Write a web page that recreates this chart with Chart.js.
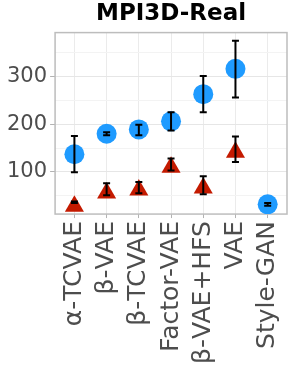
<!DOCTYPE html>
<html>
<head>
<meta charset="utf-8">
<script src="https://cdn.jsdelivr.net/npm/chart.js@4.4.1/dist/chart.umd.min.js"></script>
<style>
  html, body { margin: 0; padding: 0; background: #fff; }
  #wrap { width: 291px; height: 376px; }
</style>
</head>
<body>
<div id="wrap"><canvas id="myChart" width="291" height="376"></canvas></div>
<script>
// categories along x
var models = ['α-TCVAE', 'β-VAE', 'β-TCVAE', 'Factor-VAE', 'β-VAE+HFS', 'VAE', 'Style-GAN'];

// blue circles
var blueVal = [137, 180, 189, 206, 263, 316, 32];
var blueLow = [99, 177, 177, 187, 225, 256, 29];
var blueHigh = [175, 183, 199, 225, 301, 375, 35];

// red triangles (no value for Style-GAN)
var redVal = [28, 56, 62, 110, 66, 141, null];
var redLow = [35, 51, 55, 103, 53, 121, null];
var redHigh = [38, 76, 79, 128, 91, 174, null];

var yTicks = [50, 100, 150, 200, 250, 300, 350];

var blueColour = '#1f9bff';
var redColour = '#c41a00';
var textColour = '#4d4d4d';

function toPoints(vals){
    var out = [];
    for (var i = 0; i < vals.length; i++){
        if (vals[i] !== null) out.push({x: i, y: vals[i]});
    }
    return out;
}

// error bars drawn over the markers
var errorBars = {
    id: 'errorBars',
    afterDatasetsDraw: function(chart){
        var ctx = chart.ctx;
        var xs = chart.scales.x, ys = chart.scales.y;
        var a = chart.chartArea;
        var sets = [[redLow, redHigh], [blueLow, blueHigh]];
        ctx.save();
        ctx.beginPath();
        ctx.rect(a.left, a.top, a.right - a.left, a.bottom - a.top);
        ctx.clip();
        ctx.strokeStyle = '#000';
        ctx.lineWidth = 2;
        for (var s = 0; s < sets.length; s++){
            var lo = sets[s][0], hi = sets[s][1];
            for (var i = 0; i < lo.length; i++){
                if (lo[i] === null) continue;
                var px = xs.getPixelForValue(i);
                var p1 = ys.getPixelForValue(lo[i]);
                var p2 = ys.getPixelForValue(hi[i]);
                ctx.beginPath();
                ctx.moveTo(px, p1); ctx.lineTo(px, p2);
                ctx.moveTo(px - 3.5, p1); ctx.lineTo(px + 3.5, p1);
                ctx.moveTo(px - 3.5, p2); ctx.lineTo(px + 3.5, p2);
                ctx.stroke();
            }
        }
        ctx.restore();
    }
};

// grey panel border
var panelBorder = {
    id: 'panelBorder',
    beforeDatasetsDraw: function(chart){
        var a = chart.chartArea;
        var ctx = chart.ctx;
        ctx.save();
        ctx.strokeStyle = '#bdbdbd';
        ctx.lineWidth = 1.5;
        ctx.strokeRect(a.left, a.top, a.right - a.left, a.bottom - a.top);
        ctx.restore();
    }
};

var ctx = document.getElementById('myChart').getContext('2d');
var myChart = new Chart(ctx, {
    type: 'scatter',
    data: {
        datasets: [
            {
                label: 'blue',
                data: toPoints(blueVal),
                pointStyle: 'circle',
                pointRadius: 10,
                pointHoverRadius: 10,
                backgroundColor: blueColour,
                borderColor: blueColour,
                borderWidth: 0
            },
            {
                label: 'red',
                data: toPoints(redVal),
                pointStyle: 'triangle',
                pointRadius: 11,
                pointHoverRadius: 11,
                backgroundColor: redColour,
                borderColor: redColour,
                borderWidth: 0
            }
        ]
    },
    plugins: [panelBorder, errorBars],
    options: {
        responsive: false,
        animation: false,
        layout: {
            autoPadding: false,
            padding: {left: 4, right: 4, top: 0, bottom: 9}
        },
        scales: {
            x: {
                type: 'linear',
                min: -0.6,
                max: 6.6,
                afterBuildTicks: function(scale){
                    scale.ticks = models.map(function(m, i){ return {value: i}; });
                },
                afterFit: function(scale){
                    // rotated labels sit well inside the panel, no side room needed
                    scale.paddingLeft = 0;
                    scale.paddingRight = 0;
                },
                ticks: {
                    autoSkip: false,
                    minRotation: 90,
                    maxRotation: 90,
                    padding: 3,
                    color: textColour,
                    font: {family: 'DejaVu Sans', size: 25},
                    callback: function(v){ return models[v]; }
                },
                grid: {
                    color: '#ebebeb',
                    lineWidth: 1,
                    tickLength: 4,
                    tickColor: '#b3b3b3'
                },
                border: {display: false}
            },
            y: {
                min: 11.6,
                max: 392,
                afterBuildTicks: function(scale){
                    scale.ticks = yTicks.map(function(v){ return {value: v}; });
                },
                ticks: {
                    padding: 3,
                    color: textColour,
                    font: {family: 'DejaVu Sans', size: 21},
                    callback: function(v){ return v % 100 === 0 ? String(v) : ''; }
                },
                grid: {
                    color: function(c){ return c.tick && c.tick.value % 100 === 0 ? '#e6e6e6' : '#f3f3f3'; },
                    lineWidth: 1,
                    tickLength: 5,
                    tickColor: function(c){ return c.tick && c.tick.value % 100 === 0 ? '#b3b3b3' : 'rgba(0,0,0,0)'; }
                },
                border: {display: false}
            }
        },
        plugins: {
            legend: {display: false},
            tooltip: {enabled: false},
            title: {
                display: true,
                text: 'MPI3D-Real',
                fullSize: false,
                color: '#000',
                font: {family: 'DejaVu Sans', size: 23, weight: 'bold'},
                padding: {top: 0, bottom: 5}
            }
        }
    }
});
</script>
</body>
</html>
